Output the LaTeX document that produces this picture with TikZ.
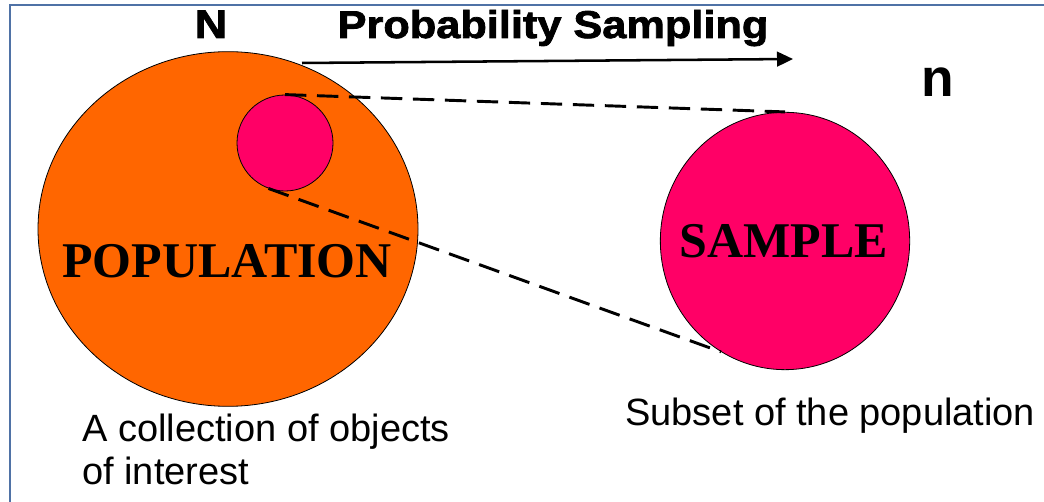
\documentclass[tikz,border=0pt]{standalone}
\usepackage{fontspec}
\setmainfont{Liberation Serif}
\setsansfont{Liberation Sans}
\newfontfamily\heavyfont[FakeStretch=1.12,FakeBold=2]{Liberation Sans Bold}
\usetikzlibrary{shapes.geometric, arrows.meta, positioning}
\definecolor{popcolor}{HTML}{FF6600}
\definecolor{samplecolor}{HTML}{FF0066}
\definecolor{framecolor}{HTML}{4F72A6}

\begin{document}
\begin{tikzpicture}[x=0.75pt, y=0.75pt,
    blob/.style={draw, ellipse, inner sep=0pt, line width=0.6pt},
    bigword/.style={font=\fontsize{37.5}{40}\selectfont\bfseries, inner sep=0pt},
    caption/.style={font=\sffamily\fontsize{28.5}{32.25}\selectfont, inner sep=0pt, align=left},
    zoomline/.style={dash pattern=on 16pt off 8pt, line width=2.2pt}]
    \useasboundingbox (0,0) rectangle (1044,502);
    \clip (0,0) rectangle (1044,502);
    \draw[framecolor, line width=1.6pt] (10,497) rectangle (1060,-10);

    % population with the drawn subset, and the sample
    \node[blob, fill=popcolor, minimum width=285pt, minimum height=266pt] (pop) at (228,273) {};
    \node[blob, fill=samplecolor, minimum size=72pt] (sub) at (285,359) {};
    \node[blob, fill=samplecolor, minimum width=187pt, minimum height=193pt] (sample) at (785,261) {};
    \node[bigword, anchor=base] (poplabel) at (227,224) {POPULATION};
    \node[bigword, anchor=base] (samplelabel) at (784,244) {SAMPLE};

    \node[font=\heavyfont\fontsize{30}{30}\selectfont, anchor=base] (bigN) at (211,464) {N};
    \node[font=\sffamily\bfseries\fontsize{40}{40}\selectfont, anchor=base] (smalln) at (938,405) {n};

    % sampling arrow
    \coordinate (arrowstart) at (302,439);
    \coordinate (arrowend) at (793,443);
    \draw[-{Triangle[length=12pt, width=11pt]}, line width=1.9pt] (arrowstart) -- (arrowend);
    \node[font=\heavyfont\fontsize{29}{29}\selectfont, anchor=base] (method) at (553,464) {Probability Sampling};

    \draw[zoomline] (sub.north) -- (sample.north);
    \draw[zoomline] (sub.250) -- (sample.240);

    \node[caption, anchor=base west] (popnote) at (82,17) {A collection of objects\\of interest};
    \node[caption, anchor=base west] (samplenote) at (625,76) {Subset of the population};
\end{tikzpicture}
\end{document}
